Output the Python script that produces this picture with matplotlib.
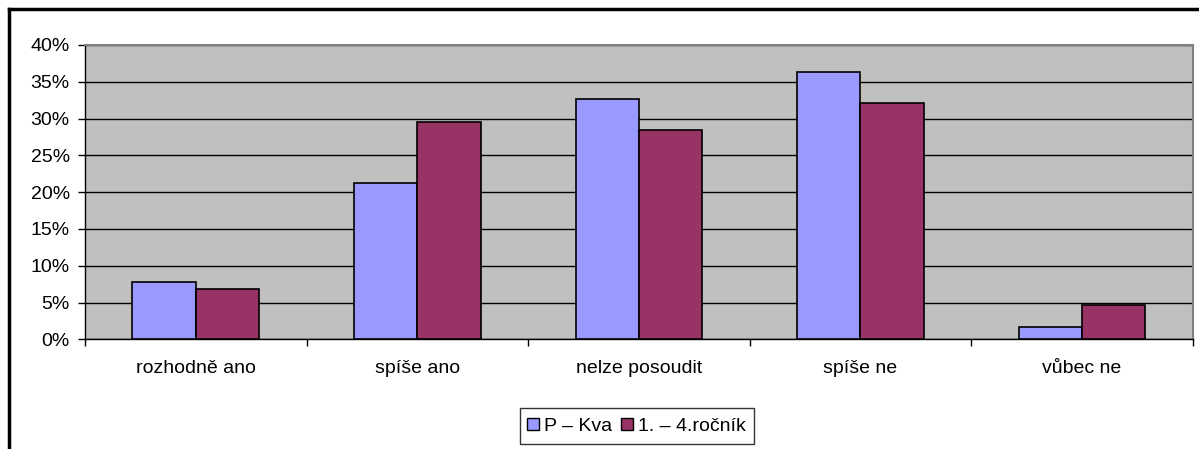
import numpy as np
import matplotlib.pyplot as plt
from matplotlib.ticker import FuncFormatter
from matplotlib.lines import Line2D

categories = ["rozhodně ano", "spíše ano", "nelze posoudit", "spíše ne", "vůbec ne"]
series_names = ["P – Kva", "1. – 4.ročník"]
pkva = [7.8, 21.2, 32.6, 36.3, 1.7]
rocnik = [6.8, 29.6, 28.4, 32.1, 4.7]
yticks = [0, 5, 10, 15, 20, 25, 30, 35, 40]

plt.rcParams['font.family'] = ['Liberation Sans', 'DejaVu Sans']
FS = 14

fig = plt.figure(figsize=(11.99, 4.49), dpi=100)
ax = fig.add_axes([0.0709, 0.2443, 0.9239, 0.6555])
ax.set_facecolor('#C0C0C0')

x = np.arange(len(categories))
w = 1 / 3.5
ax.bar(x - w / 2, pkva, w, color='#9999FF', edgecolor='black', linewidth=1.2, zorder=3, label=series_names[0])
ax.bar(x + w / 2, rocnik, w, color='#993366', edgecolor='black', linewidth=1.2, zorder=3, label=series_names[1])

ax.set_xlim(-0.5, len(categories) - 0.5)
ax.set_ylim(0, 40)
ax.set_yticks(yticks)
ax.yaxis.set_major_formatter(FuncFormatter(lambda v, p: f"{v:.0f}%"))
ax.yaxis.grid(True, color='black', linewidth=1)
ax.set_axisbelow(True)

# category labels centred, ticks on boundaries
ax.set_xticks(np.arange(-0.5, len(categories), 1))
ax.set_xticklabels([])
ax.set_xticks(x, minor=True)
ax.set_xticklabels(categories, minor=True)
ax.tick_params(axis='x', which='minor', length=0, pad=15, labelsize=FS)
ax.tick_params(axis='x', which='major', length=5, width=1, color='black')
ax.tick_params(axis='y', length=5, width=1, labelsize=FS, pad=6)

for side in ['top', 'right']:
    ax.spines[side].set_color('#808080')
    ax.spines[side].set_linewidth(1.5)
for side in ['left', 'bottom']:
    ax.spines[side].set_color('black')
    ax.spines[side].set_linewidth(1)

handles = [
    Line2D([], [], marker='s', linestyle='', markersize=8, markerfacecolor='#9999FF', markeredgecolor='black'),
    Line2D([], [], marker='s', linestyle='', markersize=8, markerfacecolor='#993366', markeredgecolor='black'),
]
leg = fig.legend(handles, series_names, loc='center', bbox_to_anchor=(637 / 1199, 1 - 426 / 449),
                 ncol=2, frameon=True, fancybox=False, edgecolor='black', fontsize=FS,
                 handlelength=0.5, handletextpad=0.3, columnspacing=0.5, borderpad=0.45)
leg.get_frame().set_linewidth(1)

# outer chart frame (left and top edges visible)
fig.add_artist(Line2D([9 / 1199, 9 / 1199], [0, 1 - 9 / 449], color='black', linewidth=2.5))
fig.add_artist(Line2D([9 / 1199, 1], [1 - 9 / 449, 1 - 9 / 449], color='black', linewidth=2.5))

fig.savefig('out.png', dpi=100)
